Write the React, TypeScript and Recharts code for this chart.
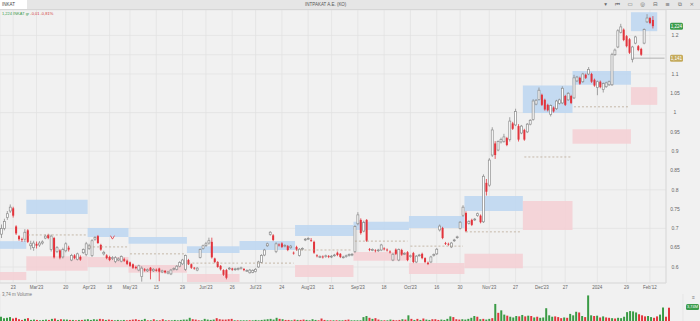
import React from 'react'
import {
  ComposedChart,
  BarChart,
  Bar,
  XAxis,
  YAxis,
  CartesianGrid,
  ReferenceArea,
  ReferenceLine,
  ReferenceDot,
  Cell,
} from 'recharts'

// daily candles, INKAT
const opens = [
  0.685, 0.7, 0.728, 0.745, 0.752, 0.705, 0.68, 0.672, 0.672, 0.695,
  0.655, 0.65, 0.66, 0.657, 0.662, 0.675, 0.683, 0.645, 0.675, 0.64,
  0.643, 0.626, 0.642, 0.65, 0.618, 0.63, 0.62, 0.626, 0.637, 0.632,
  0.648, 0.63, 0.672, 0.68, 0.657, 0.634, 0.63, 0.626, 0.622, 0.614,
  0.618, 0.615, 0.62, 0.616, 0.612, 0.607, 0.6, 0.592, 0.575, 0.594,
  0.59, 0.598, 0.59, 0.593, 0.596, 0.587, 0.59, 0.584, 0.582, 0.594,
  0.594, 0.602, 0.608, 0.594, 0.618, 0.607, 0.598, 0.592, 0.625, 0.648,
  0.656, 0.662, 0.665, 0.622, 0.613, 0.603, 0.592, 0.592, 0.595, 0.596,
  0.593, 0.594, 0.596, 0.595, 0.59, 0.585, 0.586, 0.588, 0.6, 0.612,
  0.631, 0.655, 0.684, 0.682, 0.64, 0.658, 0.661, 0.654, 0.654, 0.65,
  0.637, 0.652, 0.63, 0.646, 0.67, 0.673, 0.67, 0.665, 0.63, 0.626,
  0.627, 0.627, 0.628, 0.626, 0.63, 0.637, 0.634, 0.625, 0.627, 0.63,
  0.631, 0.64, 0.712, 0.722, 0.693, 0.722, 0.646, 0.644, 0.643, 0.642,
  0.644, 0.648, 0.645, 0.64, 0.618, 0.645, 0.618, 0.644, 0.634, 0.638,
  0.627, 0.636, 0.613, 0.63, 0.634, 0.623, 0.611, 0.613, 0.63, 0.634,
  0.696, 0.701, 0.662, 0.66, 0.652, 0.668, 0.676, 0.7, 0.734, 0.74,
  0.713, 0.722, 0.722, 0.733, 0.733, 0.717, 0.818, 0.812, 0.89, 0.92,
  0.903, 0.924, 0.925, 0.934, 0.93, 0.972, 0.968, 0.965, 0.947, 0.955,
  0.95, 0.97, 0.982, 1.022, 1.034, 1.046, 1.033, 1.02, 0.995, 1.013,
  1.01, 1.024, 1.025, 1.043, 1.033, 1.043, 1.038, 1.082, 1.09, 1.08,
  1.098, 1.1, 1.1, 1.085, 1.065, 1.08, 1.06, 1.067, 1.072, 1.072,
  1.15, 1.17, 1.208, 1.215, 1.198, 1.19, 1.138, 1.18, 1.172, 1.165,
  1.18, 1.235, 1.245, 1.24,
]
const highs = [
  0.71, 0.725, 0.745, 0.762, 0.756, 0.708, 0.683, 0.676, 0.698, 0.698,
  0.668, 0.668, 0.666, 0.667, 0.669, 0.684, 0.686, 0.684, 0.678, 0.654,
  0.646, 0.65, 0.664, 0.655, 0.634, 0.633, 0.637, 0.63, 0.648, 0.665,
  0.66, 0.672, 0.68, 0.683, 0.66, 0.642, 0.633, 0.629, 0.628, 0.628,
  0.625, 0.63, 0.624, 0.619, 0.614, 0.609, 0.603, 0.606, 0.602, 0.597,
  0.596, 0.6, 0.597, 0.596, 0.598, 0.593, 0.592, 0.59, 0.595, 0.599,
  0.605, 0.615, 0.621, 0.632, 0.621, 0.609, 0.6, 0.6, 0.648, 0.658,
  0.665, 0.676, 0.676, 0.624, 0.615, 0.605, 0.594, 0.595, 0.6, 0.598,
  0.598, 0.599, 0.601, 0.597, 0.594, 0.595, 0.594, 0.597, 0.616, 0.633,
  0.647, 0.663, 0.693, 0.685, 0.664, 0.661, 0.664, 0.659, 0.657, 0.657,
  0.64, 0.655, 0.649, 0.651, 0.675, 0.677, 0.675, 0.668, 0.633, 0.63,
  0.63, 0.632, 0.631, 0.631, 0.634, 0.64, 0.636, 0.629, 0.632, 0.635,
  0.636, 0.708, 0.742, 0.726, 0.72, 0.724, 0.649, 0.648, 0.646, 0.647,
  0.66, 0.651, 0.648, 0.643, 0.636, 0.648, 0.648, 0.647, 0.638, 0.641,
  0.632, 0.639, 0.631, 0.634, 0.637, 0.625, 0.614, 0.629, 0.635, 0.649,
  0.71, 0.704, 0.665, 0.663, 0.665, 0.673, 0.681, 0.719, 0.76, 0.744,
  0.721, 0.725, 0.727, 0.741, 0.736, 0.84, 0.828, 0.882, 0.962, 0.926,
  0.928, 0.935, 0.945, 0.937, 0.988, 0.976, 1.01, 0.97, 0.968, 0.958,
  0.973, 0.983, 1.035, 1.035, 1.065, 1.049, 1.036, 1.023, 1.021, 1.016,
  1.033, 1.036, 1.068, 1.046, 1.053, 1.046, 1.098, 1.095, 1.093, 1.103,
  1.101, 1.118, 1.103, 1.088, 1.083, 1.083, 1.078, 1.08, 1.083, 1.155,
  1.166, 1.216, 1.23, 1.218, 1.201, 1.193, 1.173, 1.199, 1.175, 1.168,
  1.218, 1.255, 1.248, 1.25,
]
const lows = [
  0.675, 0.695, 0.722, 0.74, 0.728, 0.683, 0.668, 0.665, 0.665, 0.662,
  0.645, 0.642, 0.648, 0.652, 0.658, 0.672, 0.672, 0.64, 0.622, 0.636,
  0.62, 0.622, 0.638, 0.64, 0.615, 0.62, 0.617, 0.616, 0.634, 0.628,
  0.644, 0.626, 0.668, 0.66, 0.642, 0.63, 0.62, 0.615, 0.618, 0.61,
  0.615, 0.612, 0.613, 0.605, 0.6, 0.595, 0.594, 0.589, 0.562, 0.588,
  0.587, 0.568, 0.587, 0.588, 0.563, 0.584, 0.583, 0.581, 0.579, 0.591,
  0.591, 0.599, 0.605, 0.59, 0.605, 0.595, 0.593, 0.589, 0.622, 0.645,
  0.652, 0.658, 0.622, 0.61, 0.598, 0.591, 0.577, 0.568, 0.592, 0.59,
  0.59, 0.591, 0.593, 0.589, 0.587, 0.583, 0.584, 0.586, 0.598, 0.61,
  0.628, 0.652, 0.681, 0.667, 0.636, 0.653, 0.649, 0.651, 0.641, 0.647,
  0.632, 0.642, 0.627, 0.643, 0.667, 0.67, 0.665, 0.634, 0.625, 0.623,
  0.622, 0.624, 0.623, 0.623, 0.627, 0.628, 0.623, 0.622, 0.624, 0.627,
  0.628, 0.636, 0.708, 0.684, 0.69, 0.665, 0.641, 0.641, 0.638, 0.639,
  0.641, 0.643, 0.64, 0.635, 0.615, 0.631, 0.615, 0.629, 0.631, 0.615,
  0.624, 0.61, 0.61, 0.627, 0.62, 0.61, 0.605, 0.61, 0.627, 0.631,
  0.692, 0.672, 0.657, 0.655, 0.649, 0.665, 0.673, 0.697, 0.73, 0.69,
  0.71, 0.706, 0.719, 0.73, 0.713, 0.714, 0.785, 0.808, 0.885, 0.88,
  0.9, 0.92, 0.922, 0.913, 0.925, 0.955, 0.965, 0.925, 0.944, 0.927,
  0.947, 0.967, 0.979, 1.019, 1.031, 1.017, 1.005, 1.003, 0.99, 1.0,
  1.007, 1.021, 1.022, 1.017, 1.03, 1.022, 1.035, 1.079, 1.072, 1.077,
  1.087, 1.097, 1.077, 1.067, 1.045, 1.063, 1.052, 1.064, 1.069, 1.069,
  1.147, 1.167, 1.205, 1.185, 1.169, 1.152, 1.13, 1.177, 1.159, 1.147,
  1.177, 1.232, 1.229, 1.218,
]
const closes = [
  0.7, 0.718, 0.738, 0.755, 0.733, 0.687, 0.672, 0.67, 0.69, 0.665,
  0.66, 0.662, 0.655, 0.662, 0.665, 0.68, 0.675, 0.68, 0.625, 0.65,
  0.624, 0.645, 0.66, 0.645, 0.63, 0.623, 0.634, 0.619, 0.645, 0.66,
  0.655, 0.668, 0.676, 0.662, 0.645, 0.638, 0.623, 0.618, 0.624, 0.624,
  0.621, 0.627, 0.616, 0.608, 0.603, 0.598, 0.597, 0.603, 0.597, 0.591,
  0.593, 0.59, 0.594, 0.59, 0.588, 0.59, 0.586, 0.587, 0.592, 0.596,
  0.602, 0.612, 0.618, 0.63, 0.607, 0.598, 0.596, 0.597, 0.645, 0.655,
  0.66, 0.668, 0.625, 0.613, 0.6, 0.594, 0.58, 0.572, 0.597, 0.593,
  0.595, 0.596, 0.598, 0.592, 0.591, 0.592, 0.591, 0.594, 0.613, 0.63,
  0.644, 0.66, 0.69, 0.67, 0.66, 0.656, 0.652, 0.656, 0.644, 0.654,
  0.635, 0.645, 0.646, 0.648, 0.672, 0.674, 0.668, 0.637, 0.628, 0.627,
  0.625, 0.629, 0.626, 0.628, 0.631, 0.631, 0.626, 0.626, 0.629, 0.632,
  0.633, 0.705, 0.735, 0.688, 0.715, 0.668, 0.644, 0.645, 0.641, 0.644,
  0.657, 0.646, 0.643, 0.638, 0.633, 0.634, 0.645, 0.632, 0.635, 0.618,
  0.629, 0.613, 0.628, 0.631, 0.623, 0.613, 0.608, 0.626, 0.632, 0.646,
  0.706, 0.675, 0.66, 0.658, 0.662, 0.67, 0.678, 0.716, 0.755, 0.693,
  0.718, 0.709, 0.724, 0.738, 0.716, 0.835, 0.795, 0.877, 0.955, 0.89,
  0.925, 0.93, 0.937, 0.916, 0.978, 0.958, 1.003, 0.93, 0.965, 0.93,
  0.97, 0.98, 1.03, 1.032, 1.058, 1.02, 1.008, 1.006, 1.018, 1.003,
  1.03, 1.033, 1.063, 1.02, 1.05, 1.025, 1.09, 1.092, 1.075, 1.1,
  1.09, 1.112, 1.08, 1.07, 1.08, 1.066, 1.075, 1.077, 1.08, 1.15,
  1.162, 1.212, 1.222, 1.188, 1.172, 1.155, 1.17, 1.196, 1.162, 1.15,
  1.215, 1.245, 1.232, 1.224,
]
// volume in millions
const volumes = [
  1.2, 0.8, 0.9, 1.1, 0.7, 0.9, 0.5, 0.3, 0.6, 0.8,
  0.3, 0.4, 0.3, 0.2, 0.3, 0.4, 0.3, 0.6, 0.7, 0.3,
  0.5, 0.4, 0.4, 0.3, 0.3, 0.2, 0.3, 0.3, 0.4, 0.5,
  0.3, 0.5, 0.4, 0.6, 0.5, 0.3, 0.4, 0.3, 0.2, 0.3,
  0.2, 0.3, 0.2, 0.3, 0.4, 0.5, 0.3, 0.3, 0.6, 0.2,
  0.2, 0.5, 0.2, 0.2, 0.5, 0.2, 0.2, 0.2, 0.3, 0.2,
  0.3, 0.4, 0.4, 0.9, 0.5, 0.4, 0.2, 0.2, 0.6, 0.4,
  0.3, 0.4, 0.8, 0.5, 0.4, 0.4, 0.5, 0.6, 0.2, 0.2,
  0.2, 0.2, 0.2, 0.2, 0.2, 0.3, 0.2, 0.3, 0.4, 0.5,
  0.6, 0.4, 0.9, 0.6, 0.5, 0.3, 0.3, 0.2, 0.4, 0.3,
  0.3, 0.4, 0.3, 0.2, 0.5, 0.3, 0.2, 0.7, 0.3, 0.2,
  0.2, 0.2, 0.2, 0.2, 0.2, 0.3, 0.4, 0.2, 0.2, 0.2,
  0.2, 1.1, 1.4, 0.9, 0.6, 0.8, 0.4, 0.2, 0.2, 0.2,
  0.4, 0.3, 0.2, 0.3, 0.5, 0.4, 1.6, 0.6, 0.3, 0.6,
  0.3, 0.7, 0.4, 0.3, 0.5, 0.5, 0.3, 0.4, 0.3, 0.6,
  1.3, 1.1, 0.5, 0.4, 0.5, 0.4, 0.6, 0.9, 1.4, 1.2,
  0.5, 0.6, 0.4, 0.6, 0.8, 4.8, 2.3, 3.0, 1.8, 1.5,
  1.2, 1.0, 1.4, 1.3, 1.7, 1.3, 1.5, 1.4, 1.0, 1.2,
  0.9, 1.0, 3.6, 1.6, 1.2, 1.3, 1.1, 0.8, 1.0, 0.9,
  2.0, 1.6, 2.6, 2.4, 1.4, 1.1, 7.2, 1.6, 1.4, 1.5,
  1.0, 1.3, 1.0, 0.9, 0.8, 0.7, 0.9, 0.8, 1.2, 2.5,
  2.8, 2.7, 2.4, 1.9, 1.6, 1.3, 1.4, 1.1, 0.9, 1.3,
  1.8, 3.8, 1.2, 3.74,
]

const dateTickIndex = [4, 12, 22, 30, 37, 44, 53, 62, 70, 79, 87, 96, 105, 113, 122, 131, 140, 149, 157, 167, 176, 185, 193, 204, 214, 222]
const dateTickLabels = [
  '23', "Mar'23", '20', "Apr'23", '18', "May'23", '15', '29', "Jun'23", '26', "Jul'23", '24', "Aug'23",
  '21', "Sep'23", '18', "Oct'23", '16', '30', "Nov'23", '27', "Dec'23", '27', '2024', '29', "Feb'12",
]
const priceTicks = [0.6, 0.65, 0.7, 0.75, 0.8, 0.85, 0.9, 0.95, 1, 1.05, 1.1, 1.15, 1.2]

// supply / demand zones
const zoneFrom = [0, 9, 30, 44, 64, 82, 101, 121, 140, 159, 179, 196, 216]
const zoneTo = [8, 29, 43, 63, 81, 100, 120, 139, 158, 178, 195, 215, 224]
const supplyLow = [0.647, 0.737, 0.678, 0.66, 0.636, 0.644, 0.68, 0.696, 0.701, 0.745, 0.999, 1.072, 1.211]
const supplyHigh = [0.667, 0.774, 0.701, 0.678, 0.654, 0.667, 0.709, 0.717, 0.732, 0.784, 1.07, 1.108, 1.26]
const demandLow = [0.566, 0.59, 0.6, 0.585, 0.561, 0.556, 0.574, 0.616, 0.582, 0.597, 0.696, 0.919, 1.02]
const demandHigh = [0.587, 0.628, 0.626, 0.605, 0.582, 0.577, 0.605, 0.639, 0.61, 0.634, 0.771, 0.957, 1.066]
const pivotLevel = [null, 0.683, 0.652, 0.634, 0.61, 0.61, 0.644, 0.667, 0.654, 0.691, 0.885, 1.015, 1.141]

const lastPrice = 1.224
const PAD = 4

const UP = '#8c8c8c'
const DOWN = '#e2343c'
const FONT = '"Liberation Sans", Arial, sans-serif'

const rows: any[] = opens.map((o, i) => ({
  i,
  open: o,
  high: highs[i],
  low: lows[i],
  close: closes[i],
  range: [lows[i], highs[i]],
  vol: volumes[i],
}))
for (let k = 0; k < PAD; k++) rows.push({ i: opens.length + k })

function Candle(props: any) {
  const { x, y, width, height, payload } = props
  if (!payload || payload.high == null || !height) return <g />
  const { open, close, high, low } = payload
  const k = height / (high - low)
  const yO = y + (high - open) * k
  const yC = y + (high - close) * k
  const up = close >= open
  const cx = x + width / 2
  const top = Math.min(yO, yC)
  const h = Math.max(Math.abs(yC - yO), 0.8)
  const color = up ? UP : DOWN
  return (
    <g>
      <line x1={cx} x2={cx} y1={y} y2={y + height} stroke={color} strokeWidth={0.8} />
      <rect
        x={cx - 1}
        y={top}
        width={2}
        height={h}
        fill={up ? '#ffffff' : DOWN}
        stroke={color}
        strokeWidth={up ? 0.7 : 0}
      />
    </g>
  )
}

function PriceBadge({ viewBox, text, fill }: any) {
  if (!viewBox) return null
  const x = viewBox.x + viewBox.width + 4
  return (
    <g>
      <rect x={x} y={viewBox.y - 3.5} width={13} height={7} rx={1.5} fill={fill} />
      <text x={x + 6.5} y={viewBox.y + 1.8} fontSize={4.5} fill="#fff" textAnchor="middle" fontFamily={FONT}>
        {text}
      </text>
    </g>
  )
}

export default function App() {
  return (
    <div
      style={{
        position: 'relative',
        width: 700,
        height: 321,
        background: '#f1f1f1',
        fontFamily: FONT,
        overflow: 'hidden',
      }}
    >
      <style>{'body{margin:0}'}</style>

      <ComposedChart
        width={700}
        height={292}
        data={rows}
        margin={{ top: 10, right: 17, bottom: 0, left: 0 }}
        barCategoryGap={0}
        barGap={0}
      >
        <CartesianGrid stroke="#e1e1e1" strokeWidth={0.7} />
        <XAxis
          dataKey="i"
          ticks={dateTickIndex}
          interval={0}
          height={9}
          tickSize={0}
          tickMargin={3}
          axisLine={{ stroke: '#dadada' }}
          tick={{ fontSize: 4.5, fill: '#666' }}
          tickFormatter={(v: number) => dateTickLabels[dateTickIndex.indexOf(v)] ?? ''}
        />
        <YAxis
          orientation="right"
          width={17}
          domain={[0.5585, 1.2658]}
          ticks={priceTicks}
          allowDataOverflow
          tickSize={0}
          tickMargin={9}
          axisLine={{ stroke: '#dadada' }}
          tick={{ fontSize: 5, fill: '#666', textAnchor: 'middle' }}
          tickFormatter={(v: number) => (v === 1.15 ? '' : String(v))}
        />

        {zoneFrom.map((f, z) => (
          <ReferenceArea
            key={'s' + z}
            x1={f}
            x2={zoneTo[z]}
            y1={supplyLow[z]}
            y2={supplyHigh[z]}
            fill="#bcd6f1"
            fillOpacity={0.85}
            stroke="none"
          />
        ))}
        {zoneFrom.map((f, z) => (
          <ReferenceArea
            key={'d' + z}
            x1={f}
            x2={zoneTo[z]}
            y1={demandLow[z]}
            y2={demandHigh[z]}
            fill="#f5cfd3"
            fillOpacity={0.85}
            stroke="none"
          />
        ))}
        {zoneFrom.map((f, z) =>
          pivotLevel[z] == null ? null : (
            <ReferenceLine
              key={'p' + z}
              segment={[
                { x: f, y: pivotLevel[z] },
                { x: z === zoneFrom.length - 1 ? rows.length - 1 : zoneTo[z], y: pivotLevel[z] },
              ]}
              stroke={z === zoneFrom.length - 1 ? '#9a9a9a' : '#b3a18a'}
              strokeWidth={0.7}
              strokeDasharray={z === zoneFrom.length - 1 ? undefined : '2 2'}
            />
          )
        )}

        <Bar dataKey="range" isAnimationActive={false} shape={(p: any) => <Candle {...p} />} />

        <ReferenceDot
          x={38}
          y={0.676}
          r={0}
          shape={(p: any) => (
            <path
              d={`M${p.cx - 2} ${p.cy - 2} L${p.cx} ${p.cy + 1.5} L${p.cx + 2} ${p.cy - 2}`}
              stroke={DOWN}
              strokeWidth={0.8}
              fill="none"
            />
          )}
        />

        <ReferenceLine
          y={lastPrice}
          stroke="none"
          label={(p: any) => <PriceBadge viewBox={p.viewBox} text="1,224" fill="#3c9c4c" />}
        />
        <ReferenceLine
          y={pivotLevel[pivotLevel.length - 1] as number}
          stroke="none"
          label={(p: any) => <PriceBadge viewBox={p.viewBox} text="1,141" fill="#c4aa5c" />}
        />
      </ComposedChart>

      <div style={{ position: 'absolute', left: 0, top: 292 }}>
        <BarChart
          width={700}
          height={29}
          data={rows}
          margin={{ top: 2, right: 17, bottom: 0, left: 0 }}
          barCategoryGap={0}
          barGap={0}
        >
          <CartesianGrid stroke="#e1e1e1" strokeWidth={0.7} horizontal={false} />
          <XAxis dataKey="i" ticks={dateTickIndex} interval={0} height={0} tick={false} axisLine={false} tickLine={false} />
          <YAxis hide domain={[0, 7.6]} />
          <Bar dataKey="vol" barSize={2} isAnimationActive={false}>
            {rows.map((r, i) => (
              <Cell key={i} fill={r.close >= r.open ? '#3a9b45' : DOWN} />
            ))}
          </Bar>
        </BarChart>
      </div>

      {/* header strip */}
      <div
        style={{
          position: 'absolute',
          left: 0,
          top: 0,
          width: 700,
          height: 9,
          background: '#e6e6e6',
          borderBottom: '1px solid #d6d6d6',
        }}
      >
        <div
          style={{
            position: 'absolute',
            left: 0,
            top: 0,
            width: 27,
            height: 9,
            background: '#fff',
            fontSize: 4.5,
            lineHeight: '9px',
            paddingLeft: 2,
            color: '#444',
            boxSizing: 'border-box',
          }}
        >
          INKAT
        </div>
        <div style={{ position: 'absolute', left: 305, top: 0, fontSize: 4.5, lineHeight: '9px', color: '#555' }}>
          ΙΝΤΡΑΚΑΤ Α.Ε. (ΚΟ)
        </div>
        <div
          style={{
            position: 'absolute',
            right: 3,
            top: 0,
            fontSize: 5.5,
            lineHeight: '9px',
            color: '#666',
            letterSpacing: 3,
            fontFamily: '"DejaVu Sans", sans-serif',
          }}
        >
          ▾ ⏮ ▭ ◎ ⊟ ≡ ⧉ ×
        </div>
      </div>
      <div style={{ position: 'absolute', left: 2, top: 11, fontSize: 4, lineHeight: '5px', whiteSpace: 'nowrap' }}>
        <span style={{ color: '#3c9c4c' }}>1,224 INKAT gr </span>
        <span style={{ color: '#d23a3a' }}>-0,01 -0,81%</span>
      </div>

      {/* volume pane texts */}
      <div style={{ position: 'absolute', left: 2, top: 292, fontSize: 4.5, color: '#777', whiteSpace: 'nowrap' }}>
        3,74 m Volume
      </div>
      <div style={{ position: 'absolute', left: 692, top: 294, fontSize: 5, color: '#777' }}>≡</div>
      <div
        style={{
          position: 'absolute',
          left: 686,
          top: 304,
          width: 13,
          height: 6,
          borderRadius: 1.5,
          background: '#3c9c4c',
          color: '#fff',
          fontSize: 4,
          lineHeight: '6px',
          textAlign: 'center',
        }}
      >
        3,74M
      </div>
    </div>
  )
}
